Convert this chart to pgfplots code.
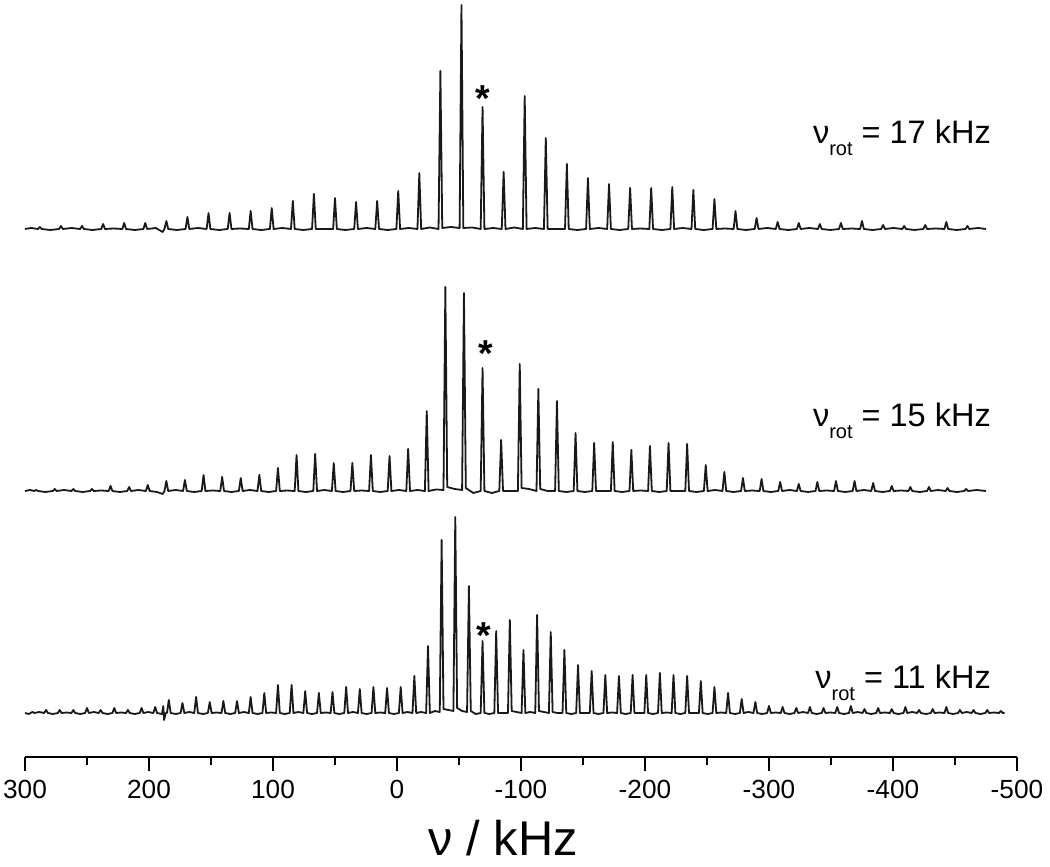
\documentclass[border=0pt]{standalone}
\usepackage{fontspec}
\setmainfont{Liberation Sans}
\usepackage{pgfplots}
\pgfplotsset{compat=1.18}
\usepackage{pgfplotstable}

% spinning sideband spectra, f in kHz, h = intensity above own baseline
\pgfplotstableread[row sep=\\]{
f h\\
300 0\\ 295 1\\
289.5 0\\ 288 2\\ 286.5 0\\ 279.5 -1\\
272.5 0\\ 271 3\\ 269.5 0\\ 262.5 1\\
255.5 0\\ 254 3\\ 252.5 0\\ 245.5 -1\\
238.5 0\\ 237 5\\ 235.5 0\\ 228.5 0.5\\
221.5 0\\ 220 6\\ 218.5 0\\ 211.5 -1\\
204.5 0\\ 203 6\\ 201.5 0\\ 194.5 1\\
189 -3\\ 187.5 0\\ 186 8\\ 184.5 0\\ 177.5 -1\\
170.5 0\\ 169 12\\ 167.5 0\\ 160.5 1\\
153.5 0\\ 152 16\\ 150.5 0\\ 143.5 -1\\
136.5 0\\ 135 16\\ 133.5 0\\ 126.5 0.5\\
119.5 0\\ 118 18\\ 116.5 0\\ 109.5 -1\\
102.5 0\\ 101 21\\ 99.5 0\\ 92.5 1\\
85.5 0\\ 84 28\\ 82.5 0\\ 75.5 -1\\
68.5 0\\ 67 35\\ 65.5 0\\ 58.5 0\\
51.5 0\\ 50 31\\ 48.5 0\\ 41.5 -1\\
34.5 0\\ 33 27\\ 31.5 0\\ 24.5 1\\
17.5 0\\ 16 28\\ 14.5 0\\ 7.5 -1\\
0.5 0\\ -1 38\\ -2.5 0\\ -9.5 1\\
-16.5 0\\ -18 56\\ -19.5 0\\ -26.5 1.5\\
-33.5 0\\ -35 158\\ -36.5 1\\ -43.5 2\\
-50.5 1\\ -52 224\\ -53.5 1\\ -60.5 1.5\\
-67.5 0\\ -69 122\\ -70.5 0\\ -77.5 1\\
-84.5 0\\ -86 57\\ -87.5 0\\ -94.5 1.5\\
-101.5 0\\ -103 133\\ -104.5 0\\ -111.5 1\\
-118.5 0\\ -120 91\\ -121.5 0\\ -128.5 0\\
-135.5 0\\ -137 65\\ -138.5 0\\ -145.5 -1\\
-152.5 0\\ -154 51\\ -155.5 0\\ -162.5 1\\
-169.5 0\\ -171 45\\ -172.5 0\\ -179.5 -1\\
-186.5 0\\ -188 41\\ -189.5 0\\ -196.5 0.5\\
-203.5 0\\ -205 41\\ -206.5 0\\ -213.5 -1\\
-220.5 0\\ -222 42\\ -223.5 0\\ -230.5 1\\
-237.5 0\\ -239 39\\ -240.5 0\\ -247.5 -1\\
-254.5 0\\ -256 30\\ -257.5 0\\ -264.5 0.5\\
-271.5 0\\ -273 18\\ -274.5 0\\ -281.5 -1\\
-288.5 0\\ -290 11\\ -291.5 0\\ -298.5 1\\
-305.5 0\\ -307 7\\ -308.5 0\\ -315.5 -1\\
-322.5 0\\ -324 6\\ -325.5 0\\ -332.5 1\\
-339.5 0\\ -341 5\\ -342.5 0\\ -349.5 -1\\
-356.5 0\\ -358 6\\ -359.5 0\\ -366.5 0.5\\
-373.5 0\\ -375 8\\ -376.5 0\\ -383.5 -1\\
-390.5 0\\ -392 4\\ -393.5 0\\ -400.5 1\\
-407.5 0\\ -409 3\\ -410.5 0\\ -417.5 -1\\
-424.5 0\\ -426 4\\ -427.5 0\\ -434.5 0.5\\
-441.5 0\\ -443 7\\ -444.5 0\\ -451.5 -1\\
-458.5 0\\ -460 3\\ -461.5 0\\ -468.5 1\\
-475 0\\
}\specA

\pgfplotstableread[row sep=\\]{
f h\\
300 0\\ 296 1\\
292.5 0\\ 291 1\\ 289.5 0\\ 283.5 -1\\
277.5 0\\ 276 2\\ 274.5 0\\ 268.5 1\\
262.5 0\\ 261 2\\ 259.5 0\\ 253.5 -1\\
247.5 0\\ 246 2\\ 244.5 0\\ 238.5 0.5\\
232.5 0\\ 231 5\\ 229.5 0\\ 223.5 -1\\
217.5 0\\ 216 4\\ 214.5 0\\ 208.5 1\\
202.5 0\\ 201 6\\ 199.5 0\\ 193.5 -1\\
189 -3\\ 187.5 0\\ 186 10\\ 184.5 0\\ 178.5 1\\
172.5 0\\ 171 11\\ 169.5 0\\ 163.5 -1\\
157.5 0\\ 156 16\\ 154.5 0\\ 148.5 0.5\\
142.5 0\\ 141 14\\ 139.5 0\\ 133.5 -1\\
127.5 0\\ 126 13\\ 124.5 0\\ 118.5 1\\
112.5 0\\ 111 16\\ 109.5 0\\ 103.5 -1\\
97.5 0\\ 96 23\\ 94.5 0\\ 88.5 0.5\\
82.5 0\\ 81 36\\ 79.5 0\\ 73.5 -1\\
67.5 0\\ 66 37\\ 64.5 0\\ 58.5 1\\
52.5 0\\ 51 28\\ 49.5 0\\ 43.5 -1\\
37.5 0\\ 36 28\\ 34.5 0\\ 28.5 0.5\\
22.5 0\\ 21 36\\ 19.5 0\\ 13.5 -1\\
7.5 0\\ 6 35\\ 4.5 0\\ -1.5 1\\
-7.5 0\\ -9 42\\ -10.5 0\\ -16.5 1\\
-22.5 0\\ -24 80\\ -25.5 0\\ -31.5 1.5\\
-37.5 1\\ -39 204\\ -40.5 4\\ -46.5 2\\
-52.5 1\\ -54 198\\ -55.5 3\\ -61.5 -2\\
-67.5 0\\ -69 123\\ -70.5 0\\ -76.5 -2\\
-82.5 0\\ -84 51\\ -85.5 0\\ -91.5 0\\
-97.5 0\\ -99 127\\ -100.5 3\\ -106.5 2\\
-112.5 0\\ -114 102\\ -115.5 2\\ -121.5 0\\
-127.5 0\\ -129 90\\ -130.5 0\\ -136.5 -1\\
-142.5 0\\ -144 58\\ -145.5 0\\ -151.5 -1\\
-157.5 0\\ -159 48\\ -160.5 0\\ -166.5 0\\
-172.5 0\\ -174 49\\ -175.5 0\\ -181.5 -1\\
-187.5 0\\ -189 41\\ -190.5 0\\ -196.5 0.5\\
-202.5 0\\ -204 45\\ -205.5 0\\ -211.5 -1\\
-217.5 0\\ -219 48\\ -220.5 0\\ -226.5 0\\
-232.5 0\\ -234 47\\ -235.5 0\\ -241.5 -1\\
-247.5 0\\ -249 26\\ -250.5 0\\ -256.5 1\\
-262.5 0\\ -264 19\\ -265.5 0\\ -271.5 -1\\
-277.5 0\\ -279 13\\ -280.5 0\\ -286.5 0.5\\
-292.5 0\\ -294 12\\ -295.5 0\\ -301.5 -1\\
-307.5 0\\ -309 9\\ -310.5 0\\ -316.5 1\\
-322.5 0\\ -324 7\\ -325.5 0\\ -331.5 -1\\
-337.5 0\\ -339 9\\ -340.5 0\\ -346.5 0.5\\
-352.5 0\\ -354 10\\ -355.5 0\\ -361.5 -1\\
-367.5 0\\ -369 10\\ -370.5 0\\ -376.5 1\\
-382.5 0\\ -384 8\\ -385.5 0\\ -391.5 -1\\
-397.5 0\\ -399 5\\ -400.5 0\\ -406.5 0.5\\
-412.5 0\\ -414 4\\ -415.5 0\\ -421.5 -1\\
-427.5 0\\ -429 4\\ -430.5 0\\ -436.5 1\\
-442.5 0\\ -444 3\\ -445.5 0\\ -451.5 -1\\
-457.5 0\\ -459 2\\ -460.5 0\\ -467.5 1\\
-475 0\\
}\specB

\pgfplotstableread[row sep=\\]{
f h\\
300 0\\ 297 -1\\
295.5 0\\ 294 1\\ 292.5 0\\ 288.5 1\\
284.5 0\\ 283 3\\ 281.5 0\\ 277.5 -1\\
273.5 0\\ 272 3\\ 270.5 0\\ 266.5 0.5\\
262.5 0\\ 261 3\\ 259.5 0\\ 255.5 -1\\
251.5 0\\ 250 5\\ 248.5 0\\ 244.5 1\\
240.5 0\\ 239 3\\ 237.5 0\\ 233.5 -1\\
229.5 0\\ 228 5\\ 226.5 0\\ 222.5 0.5\\
218.5 0\\ 217 3\\ 215.5 0\\ 211.5 -1\\
207.5 0\\ 206 5\\ 204.5 0\\ 200.5 1\\
196.5 0\\ 195 6\\ 193.5 0\\ 189.5 -1\\
188.5 7\\ 187.8 -7\\ 186.5 0\\
185.5 0\\ 184 13\\ 182.5 0\\ 178.5 -1\\
174.5 0\\ 173 10\\ 171.5 0\\ 167.5 1\\
163.5 0\\ 162 16\\ 160.5 0\\ 156.5 -1\\
152.5 0\\ 151 11\\ 149.5 0\\ 145.5 0.5\\
141.5 0\\ 140 12\\ 138.5 0\\ 134.5 -1\\
130.5 0\\ 129 12\\ 127.5 0\\ 123.5 1\\
119.5 0\\ 118 16\\ 116.5 0\\ 112.5 -1\\
108.5 0\\ 107 20\\ 105.5 0\\ 101.5 0.5\\
97.5 0\\ 96 28\\ 94.5 0\\ 90.5 -1\\
86.5 0\\ 85 28\\ 83.5 0\\ 79.5 1\\
75.5 0\\ 74 22\\ 72.5 0\\ 68.5 -1\\
64.5 0\\ 63 20\\ 61.5 0\\ 57.5 0.5\\
53.5 0\\ 52 21\\ 50.5 0\\ 46.5 -1\\
42.5 0\\ 41 26\\ 39.5 0\\ 35.5 1\\
31.5 0\\ 30 24\\ 28.5 0\\ 24.5 -1\\
20.5 0\\ 19 26\\ 17.5 0\\ 13.5 0.5\\
9.5 0\\ 8 25\\ 6.5 0\\ 2.5 -1\\
-1.5 0\\ -3 26\\ -4.5 0\\ -8.5 1\\
-12.5 0\\ -14 37\\ -15.5 0\\ -19.5 1\\
-23.5 0\\ -25 67\\ -26.5 0\\ -30.5 2\\
-34.5 1\\ -36 173\\ -37.5 4\\ -41.5 3\\
-45.5 2\\ -47 196\\ -48.5 5\\ -52.5 2\\
-56.5 1\\ -58 127\\ -59.5 2\\ -63.5 -1\\
-67.5 0\\ -69 72\\ -70.5 0\\ -74.5 -1\\
-78.5 0\\ -80 82\\ -81.5 0\\ -85.5 0\\
-89.5 0\\ -91 93\\ -92.5 2\\ -96.5 1\\
-100.5 0\\ -102 63\\ -103.5 0\\ -107.5 1\\
-111.5 0\\ -113 98\\ -114.5 2\\ -118.5 1\\
-122.5 0\\ -124 81\\ -125.5 1\\ -129.5 0\\
-133.5 0\\ -135 63\\ -136.5 0\\ -140.5 -1\\
-144.5 0\\ -146 48\\ -147.5 0\\ -151.5 0\\
-155.5 0\\ -157 42\\ -158.5 0\\ -162.5 -1\\
-166.5 0\\ -168 38\\ -169.5 0\\ -173.5 0.5\\
-177.5 0\\ -179 37\\ -180.5 0\\ -184.5 -1\\
-188.5 0\\ -190 38\\ -191.5 0\\ -195.5 0\\
-199.5 0\\ -201 38\\ -202.5 0\\ -206.5 -1\\
-210.5 0\\ -212 40\\ -213.5 0\\ -217.5 0.5\\
-221.5 0\\ -223 38\\ -224.5 0\\ -228.5 -1\\
-232.5 0\\ -234 37\\ -235.5 0\\ -239.5 0\\
-243.5 0\\ -245 32\\ -246.5 0\\ -250.5 -1\\
-254.5 0\\ -256 26\\ -257.5 0\\ -261.5 0.5\\
-265.5 0\\ -267 20\\ -268.5 0\\ -272.5 -1\\
-276.5 0\\ -278 14\\ -279.5 0\\ -283.5 1\\
-287.5 0\\ -289 11\\ -290.5 0\\ -294.5 -1\\
-298.5 0\\ -300 7\\ -301.5 0\\ -305.5 0.5\\
-309.5 0\\ -311 6\\ -312.5 0\\ -316.5 -1\\
-320.5 0\\ -322 5\\ -323.5 0\\ -327.5 1\\
-331.5 0\\ -333 6\\ -334.5 0\\ -338.5 -1\\
-342.5 0\\ -344 5\\ -345.5 0\\ -349.5 0.5\\
-353.5 0\\ -355 6\\ -356.5 0\\ -360.5 -1\\
-364.5 0\\ -366 7\\ -367.5 0\\ -371.5 1\\
-375.5 0\\ -377 4\\ -378.5 0\\ -382.5 -1\\
-386.5 0\\ -388 5\\ -389.5 0\\ -393.5 0.5\\
-397.5 0\\ -399 4\\ -400.5 0\\ -404.5 -1\\
-408.5 0\\ -410 6\\ -411.5 0\\ -415.5 1\\
-419.5 0\\ -421 3\\ -422.5 0\\ -426.5 -1\\
-430.5 0\\ -432 4\\ -433.5 0\\ -437.5 0.5\\
-441.5 0\\ -443 6\\ -444.5 0\\ -448.5 -1\\
-452.5 0\\ -454 3\\ -455.5 0\\ -459.5 1\\
-463.5 0\\ -465 3\\ -466.5 0\\ -470.5 -1\\
-474.5 0\\ -476 3\\ -477.5 0\\ -481.5 0.5\\
-485.5 0\\ -487 2\\ -488.5 0\\
-490 0\\
}\specC

\begin{document}
\begin{tikzpicture}
  \begin{axis}[
    name=ax,
    scale only axis, width=396.8pt, height=302.8pt,
    xmin=-500, xmax=300, ymin=0, ymax=757,
    x dir=reverse, clip=false,
    axis x line*=bottom, axis y line=none, ytick=\empty,
    x axis line style={line width=0.8pt, -},
    xtick={-500,-400,...,300},
    minor xtick={-450,-350,...,250},
    tick align=outside,
    major tick length=5.6pt, minor tick length=3.2pt,
    every tick/.style={black, line width=0.8pt},
    tick label style={font=\fontsize{10.5}{12}\selectfont},
    /pgf/number format/assume math mode=true,
    xticklabel style={/pgf/number format/1000 sep={}},
    xlabel={ν / kHz},
    xlabel style={font=\fontsize{19.5}{22}\selectfont, anchor=base,
      at={(axis description cs:0.482,0)}, yshift=-39.5pt},
  ]
    \addplot[black!90, line width=0.72pt, line join=round]
      table[x=f, y expr=\thisrow{h}+528] {\specA};
    \addplot[black!90, line width=0.72pt, line join=round]
      table[x=f, y expr=\thisrow{h}+266] {\specB};
    \addplot[black!90, line width=0.72pt, line join=round]
      table[x=f, y expr=\thisrow{h}+44] {\specC};

    \node[anchor=base, font=\fontsize{15}{15}\selectfont\bfseries] at (axis cs:-69,645) {*};
    \node[anchor=base, font=\fontsize{15}{15}\selectfont\bfseries] at (axis cs:-72,390) {*};
    \node[anchor=base, font=\fontsize{15}{15}\selectfont\bfseries] at (axis cs:-70,109) {*};

    \node[anchor=base east, font=\fontsize{13}{14}\selectfont] at (axis cs:-486,613)
      {ν\raisebox{-4.8pt}{\fontsize{8}{9}\selectfont rot} = 17 kHz};
    \node[anchor=base east, font=\fontsize{13}{14}\selectfont] at (axis cs:-486,330)
      {ν\raisebox{-4.8pt}{\fontsize{8}{9}\selectfont rot} = 15 kHz};
    \node[anchor=base east, font=\fontsize{13}{14}\selectfont] at (axis cs:-486,69)
      {ν\raisebox{-4.8pt}{\fontsize{8}{9}\selectfont rot} = 11 kHz};
  \end{axis}
  \pgfresetboundingbox
  \path[use as bounding box] ([xshift=-10pt, yshift=-43.6pt]ax.south west)
    rectangle ([xshift=13.2pt]ax.north east);
\end{tikzpicture}
\end{document}
